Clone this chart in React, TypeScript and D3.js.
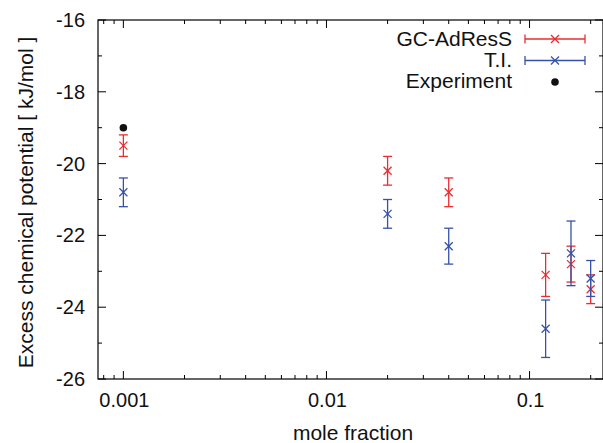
import React from "react";
import * as d3 from "d3";

const xFrac = [0.001, 0.02, 0.04, 0.12, 0.16, 0.2];
const gcMean = [-19.5, -20.2, -20.8, -23.1, -22.8, -23.5];
const gcErr = [0.3, 0.4, 0.4, 0.6, 0.5, 0.4];
const tiMean = [-20.8, -21.4, -22.3, -24.6, -22.5, -23.2];
const tiErr = [0.4, 0.4, 0.5, 0.8, 0.9, 0.5];
const expX = [0.001];
const expY = [-19.0];
const yTicks = [-26, -24, -22, -20, -18, -16];
const xTickLabels = [0.001, 0.01, 0.1];
const legendLabels = ["GC-AdResS", "T.I.", "Experiment"];

const W = 603, H = 443;
const L = 98, T = 20, R = 603, B = 379;
const RED = "#ec2b2f";
const BLUE = "#3552a8";
const FONT = "'Liberation Sans', Arial, sans-serif";

export default function App() {
  const x = d3.scaleLog().domain([0.00075, 0.23]).range([L, R]);
  const y = d3.scaleLinear().domain([-26, -16]).range([B, T]);

  const minorX: number[] = [];
  for (let e = -4; e <= 0; e++) {
    for (let m = 1; m <= 9; m++) {
      const v = m * Math.pow(10, e);
      if (v >= 0.00075 && v <= 0.23) minorX.push(v);
    }
  }
  const minorY = d3.range(-26, -15, 1);

  const cross = (cx: number, cy: number, color: string, key: string) => (
    <g key={key} stroke={color} strokeWidth={1.3}>
      <line x1={cx - 4} y1={cy - 4} x2={cx + 4} y2={cy + 4} />
      <line x1={cx - 4} y1={cy + 4} x2={cx + 4} y2={cy - 4} />
    </g>
  );

  const errSeries = (means: number[], errs: number[], color: string, name: string) =>
    xFrac.map((xv, i) => {
      const cx = x(xv);
      const y1 = y(means[i] + errs[i]);
      const y2 = y(means[i] - errs[i]);
      return (
        <g key={name + i} stroke={color} strokeWidth={1.3}>
          <line x1={cx} x2={cx} y1={y1} y2={y2} />
          <line x1={cx - 4.5} x2={cx + 4.5} y1={y1} y2={y1} />
          <line x1={cx - 4.5} x2={cx + 4.5} y1={y2} y2={y2} />
          {cross(cx, y(means[i]), color, name + "c" + i)}
        </g>
      );
    });

  const legY = [39, 60.5, 82];
  const legTextX = 512, legL = 525, legR = 585, legM = 555;

  return (
    <svg width={W} height={H} style={{ position: "absolute", left: 0, top: 0 }} fontFamily={FONT}>
      <rect x={0} y={0} width={W} height={H} fill="white" />
      {/* y ticks */}
      {minorY.map((v) => {
        const major = v % 2 === 0;
        const len = major ? 8 : 4;
        return (
          <g key={"yt" + v} stroke="#000" strokeWidth={1}>
            <line x1={L} x2={L + len} y1={y(v)} y2={y(v)} />
            <line x1={R} x2={R - len} y1={y(v)} y2={y(v)} />
          </g>
        );
      })}
      {/* x ticks */}
      {minorX.map((v, i) => {
        const major = Math.abs(Math.log10(v) - Math.round(Math.log10(v))) < 1e-9;
        const len = major ? 8 : 4;
        return (
          <g key={"xt" + i} stroke="#000" strokeWidth={1}>
            <line x1={x(v)} x2={x(v)} y1={B} y2={B - len} />
            <line x1={x(v)} x2={x(v)} y1={T} y2={T + len} />
          </g>
        );
      })}
      <rect x={L} y={T} width={R - L} height={B - T} fill="none" stroke="#000" strokeWidth={1.2} />
      {yTicks.map((v) => (
        <text key={"yl" + v} x={L - 13} y={y(v) + 7} textAnchor="end" fontSize={20} fill="#111">
          {v}
        </text>
      ))}
      {xTickLabels.map((v) => (
        <text key={"xl" + v} x={x(v) + 1} y={407} textAnchor="middle" fontSize={20} fill="#111">
          {String(v)}
        </text>
      ))}
      <text x={353} y={440} textAnchor="middle" fontSize={21} fill="#111">
        mole fraction
      </text>
      <text
        transform={`translate(33, ${(T + B) / 2 + 3}) rotate(-90)`}
        textAnchor="middle"
        fontSize={21}
        fill="#111"
      >
        Excess chemical potential [ kJ/mol ]
      </text>

      {errSeries(gcMean, gcErr, RED, "gc")}
      {errSeries(tiMean, tiErr, BLUE, "ti")}
      {expX.map((xv, i) => (
        <circle key={"e" + i} cx={x(xv)} cy={y(expY[i])} r={3.8} fill="#111" />
      ))}

      {/* legend */}
      {legendLabels.map((lab, i) => (
        <text key={"lg" + i} x={legTextX} y={[46, 67, 88][i]} textAnchor="end" fontSize={21} fill="#111">
          {lab}
        </text>
      ))}
      {[RED, BLUE].map((c, i) => (
        <g key={"ls" + i} stroke={c} strokeWidth={1.3}>
          <line x1={legL} x2={legR} y1={legY[i]} y2={legY[i]} />
          <line x1={legL} x2={legL} y1={legY[i] - 4.5} y2={legY[i] + 4.5} />
          <line x1={legR} x2={legR} y1={legY[i] - 4.5} y2={legY[i] + 4.5} />
          {cross(legM, legY[i], c, "lc" + i)}
        </g>
      ))}
      <circle cx={legM} cy={legY[2]} r={3.8} fill="#111" />
    </svg>
  );
}
